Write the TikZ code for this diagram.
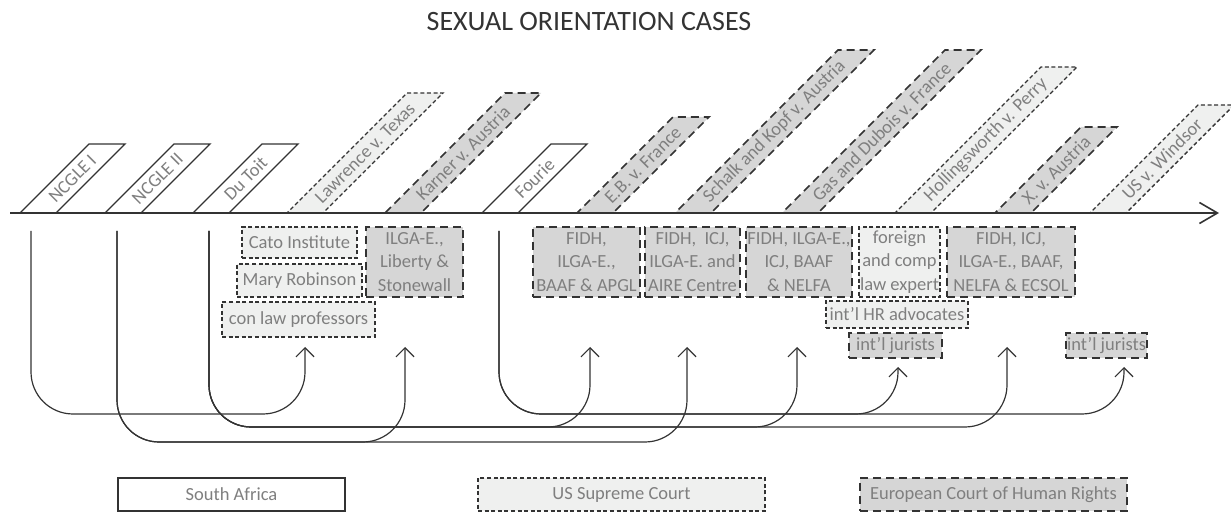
\documentclass[tikz,border=0pt]{standalone}
\usepackage{fontspec}
\setmainfont{Carlito}
\usetikzlibrary{arrows.meta}
\definecolor{ink}{HTML}{333333}
\definecolor{lbl}{HTML}{7F7F7F}
\definecolor{usfill}{HTML}{EFF0EF}
\definecolor{ecfill}{HTML}{D6D6D6}

\begin{document}
\begin{tikzpicture}[
  x=1pt, y=1pt,
  lbltxt/.style={text=lbl, font=\fontsize{18.5}{23.5}\selectfont},
  sa/.style={draw=ink, line width=1.3pt, fill=white},
  us/.style={draw=ink, line width=1.4pt, dash pattern=on 4pt off 2.6pt, fill=usfill},
  ec/.style={draw=ink, line width=1.7pt, dash pattern=on 8pt off 5pt, fill=ecfill},
  casename/.style={lbltxt, rotate=45, inner sep=0pt},
  amicus/.style={lbltxt, align=center, inner sep=1pt},
  cite/.style={ink, line width=1.2pt, rounded corners=42pt,
    -{Straight Barb[length=9pt,width=18pt]}},
  ttl/.style={text=ink, font=\fontsize{28}{32}\selectfont}]

\useasboundingbox (0,-305) rectangle (1231,213);

\node[ttl] (title) at (589,191) {SEXUAL ORIENTATION CASES};

% ================================================================ cases on the timeline
% left x / height / court / name / label
\foreach \x/\h/\ct/\nm/\txt in {
    20/69/sa/ncgleI/NCGLE I, 105/69/sa/ncgleII/NCGLE II, 193/69/sa/dutoit/Du Toit,
    287/120/us/lawrence/Lawrence v. Texas, 385/120/ec/karner/Karner v. Austria,
    482/69/sa/fourie/Fourie, 577/96/ec/eb/E.B. v. France,
    675/163/ec/schalk/Schalk and Kopf v. Austria, 782/163/ec/gas/Gas and Dubois v. France,
    895/146/us/holl/Hollingsworth v. Perry, 995/86/ec/xaus/X. v. Austria,
    1090/108/us/windsor/US v. Windsor}{
  \draw[\ct] (\x,0) -- ++(36,0) -- ++(\h,\h) -- ++(-36,0) -- cycle;
  \node[casename] (\nm) at ({\x+18+\h/2},{\h/2}) {\txt};
}
\draw[ink, line width=1.6pt, -{Straight Barb[length=18pt,width=21pt]}] (10,0) -- (1219,0);

% ================================================================ amicus briefs
\node[amicus, us, minimum width=115, minimum height=31] (cato) at (299.5,-29.5) {Cato Institute};
\node[amicus, us, minimum width=125, minimum height=33] (mary) at (299.5,-67.5) {Mary Robinson};
\node[amicus, us, minimum width=153, minimum height=35] (conlaw) at (298.5,-106.5) {con law professors};
\node[amicus, ec, minimum width=97, minimum height=70] (karnerbr) at (414.5,-49)
  {ILGA-E.,\\ Liberty \&\\ Stonewall};
\node[amicus, ec, minimum width=107, minimum height=70] (ebbr) at (586.5,-49)
  {FIDH,\\ ILGA-E.,\\ BAAF \& APGL};
\node[amicus, ec, minimum width=95, minimum height=70] (schalkbr) at (692.5,-49)
  {FIDH, \ ICJ,\\ ILGA-E. and\\ AIRE Centre};
\node[amicus, ec, minimum width=106, minimum height=70] (gasbr) at (799,-49)
  {FIDH, ILGA-E.,\\ ICJ, BAAF\\ \& NELFA};
\node[amicus, us, minimum width=81, minimum height=70] (hollbr) at (899.5,-49)
  {foreign\\ and comp\\ law expert};
\node[amicus, ec, minimum width=128, minimum height=70] (xausbr) at (1011,-49)
  {FIDH, ICJ,\\ ILGA-E., BAAF,\\ NELFA \& ECSOL};
\node[amicus, us, minimum width=142, minimum height=27] (hradv) at (897,-101.5) {int’l HR advocates};
\node[amicus, ec, minimum width=93, minimum height=25] (jurA) at (895.5,-132.5) {int’l jurists};
\node[amicus, ec, minimum width=77, minimum height=25] (jurB) at (1106.5,-132.5) {int’l jurists};

% ================================================================ citations
\foreach \nm/\x in {ncgleI/31, ncgleII/117, dutoit/209, fourie/499}
  \coordinate (\nm-out) at (\x,-18);
\foreach \nm/\x/\y in {lawrence/305/-134, karner/405/-134, eb/590/-134, schalk/687/-134,
    gas/797/-134, holl/898/-154, xaus/1007/-134, windsor/1124/-154}
  \coordinate (\nm-in) at (\x,\y);
\foreach \s/\t/\l in {ncgleI/lawrence/-201, ncgleII/karner/-229, ncgleII/schalk/-229,
    dutoit/eb/-214, dutoit/gas/-214, dutoit/xaus/-214, fourie/holl/-201, fourie/windsor/-201}
  \draw[cite] (\s-out) -- (\s-out |- 0,\l) -- (\t-in |- 0,\l) -- (\t-in);

% ================================================================ legend
\node[amicus, sa, minimum width=227, minimum height=33] (legsa) at (231.5,-281.5) {South Africa};
\node[amicus, us, minimum width=287, minimum height=33] (legus) at (621.5,-281.5) {US Supreme Court};
\node[amicus, ec, minimum width=267, minimum height=33] (legec) at (993.5,-281.5)
  {European Court of Human Rights};

\end{tikzpicture}
\end{document}
